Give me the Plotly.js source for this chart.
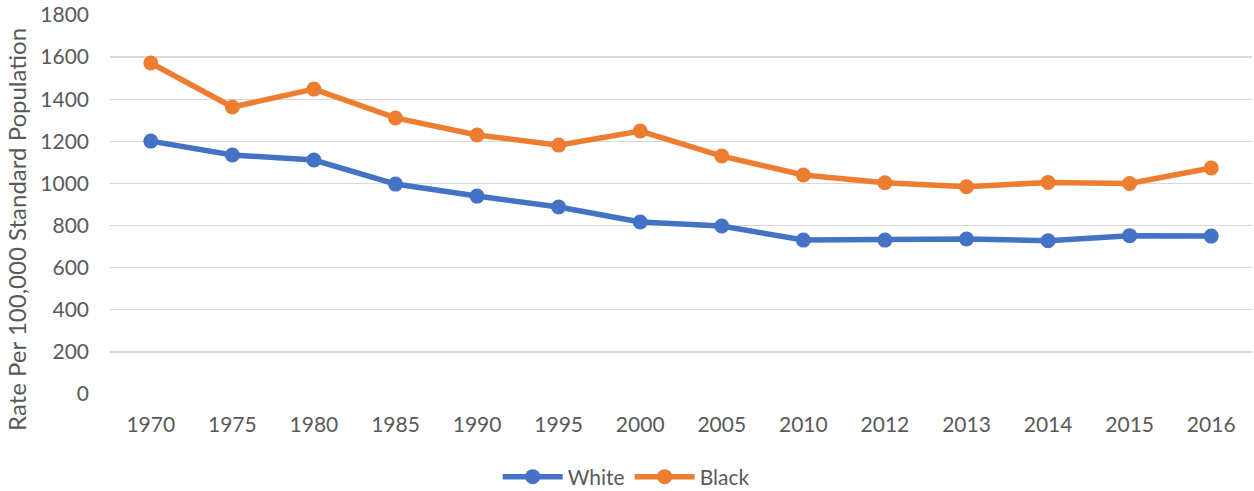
<!DOCTYPE html>
<html>
<head>
<meta charset="utf-8">
<script src="https://cdn.plot.ly/plotly-3.0.1.min.js"></script>
<style>html,body{margin:0;padding:0;background:#fff;}#chart{width:1254px;height:491px;}</style>
</head>
<body>
<div id="chart"></div>
<script>
const years = ['1970','1975','1980','1985','1990','1995','2000','2005','2010','2012','2013','2014','2015','2016'];
const white = [1201, 1135, 1111, 997, 940, 888, 817, 798, 731, 731, 736, 728, 752, 750];
const black = [1572, 1363, 1448, 1311, 1230, 1182, 1249, 1130, 1040, 1003, 984, 1005, 1000, 1073];
const yTicks = [0,200,400,600,800,1000,1200,1400,1600,1800];
const yTitle = 'Rate Per 100,000 Standard Population';

const font = 'Lato, "Open Sans", sans-serif';
const traces = [
  {x: years, y: white, name: 'White', type: 'scatter', mode: 'lines+markers',
   line: {color: '#4472C4', width: 5.5}, marker: {color: '#4472C4', size: 15}},
  {x: years, y: black, name: 'Black', type: 'scatter', mode: 'lines+markers',
   line: {color: '#ED7D31', width: 5.5}, marker: {color: '#ED7D31', size: 15}}
];
const layout = {
  width: 1254, height: 491,
  margin: {l: 110, r: 2, t: 15, b: 97, autoexpand: false},
  paper_bgcolor: '#fff', plot_bgcolor: '#fff',
  font: {family: font, color: '#595959', size: 21},
  showlegend: true,
  legend: {orientation: 'h', x: 0.452, xanchor: 'center', y: -0.219, yanchor: 'middle',
           itemwidth: 60, font: {family: font, size: 21, color: '#595959'}},
  xaxis: {type: 'category', range: [-0.5, 13.5], showgrid: false, zeroline: false, showline: false,
          ticks: '', ticklabelstandoff: 16, tickfont: {family: font, size: 21, color: '#595959'}, fixedrange: true},
  yaxis: {range: [0, 1800], tickvals: yTicks, ticktext: yTicks.map(String),
          showgrid: true, gridcolor: '#d9d9d9', gridwidth: 1.3, zeroline: false, showline: false,
          ticks: '', ticklabelstandoff: 20, tickfont: {family: font, size: 21, color: '#595959'}},
  annotations: [{text: yTitle, textangle: -90, xref: 'paper', yref: 'paper',
                 x: -0.0825, y: 0.435, xanchor: 'center', yanchor: 'middle', showarrow: false,
                 font: {family: font, size: 24, color: '#595959'}}]
};
Plotly.newPlot('chart', traces, layout, {displayModeBar: false, staticPlot: true});
</script>
</body>
</html>
